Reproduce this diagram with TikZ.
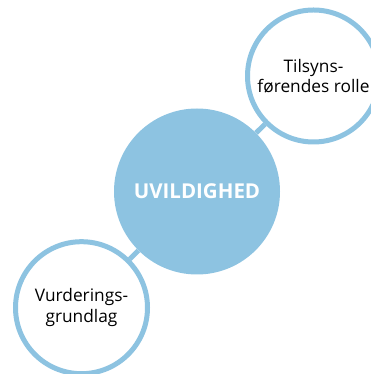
\documentclass[tikz,border=0pt]{standalone}
\usepackage{fontspec}
\setmainfont{Open Sans}
\usepackage{xcolor}
\definecolor{uvblue}{HTML}{8DC3E1}
\tikzset{uvring/.style={circle,draw=uvblue,line width=5pt,fill=white,
    minimum size=132pt,inner sep=0pt,align=center,
    font=\fontsize{17.3}{20.5}\selectfont}}
\tikzset{uvcore/.style={circle,fill=uvblue,minimum size=166pt,inner sep=0pt,
    text=white,font=\bfseries\fontsize{20.5}{22}\selectfont}}
\tikzset{uvlink/.style={draw=uvblue,line width=5pt}}

\begin{document}
\begin{tikzpicture}[x=1pt,y=1pt]
  \useasboundingbox (0,0) rectangle (371,374);

  \coordinate (c)  at (197,182.5);
  \coordinate (t)  at (313.5,298);
  \coordinate (v)  at (81.5,66.3);

  \node [uvcore] (uv) at (c) {UVILDIGHED};
  \node [uvring] (ts) at (t) {Tilsyns-\\førendes rolle};
  \node [uvring] (vg) at (v) {Vurderings-\\grundlag};

  \draw [uvlink] (uv) -- (ts);
  \draw [uvlink] (uv) -- (vg);
\end{tikzpicture}
\end{document}
